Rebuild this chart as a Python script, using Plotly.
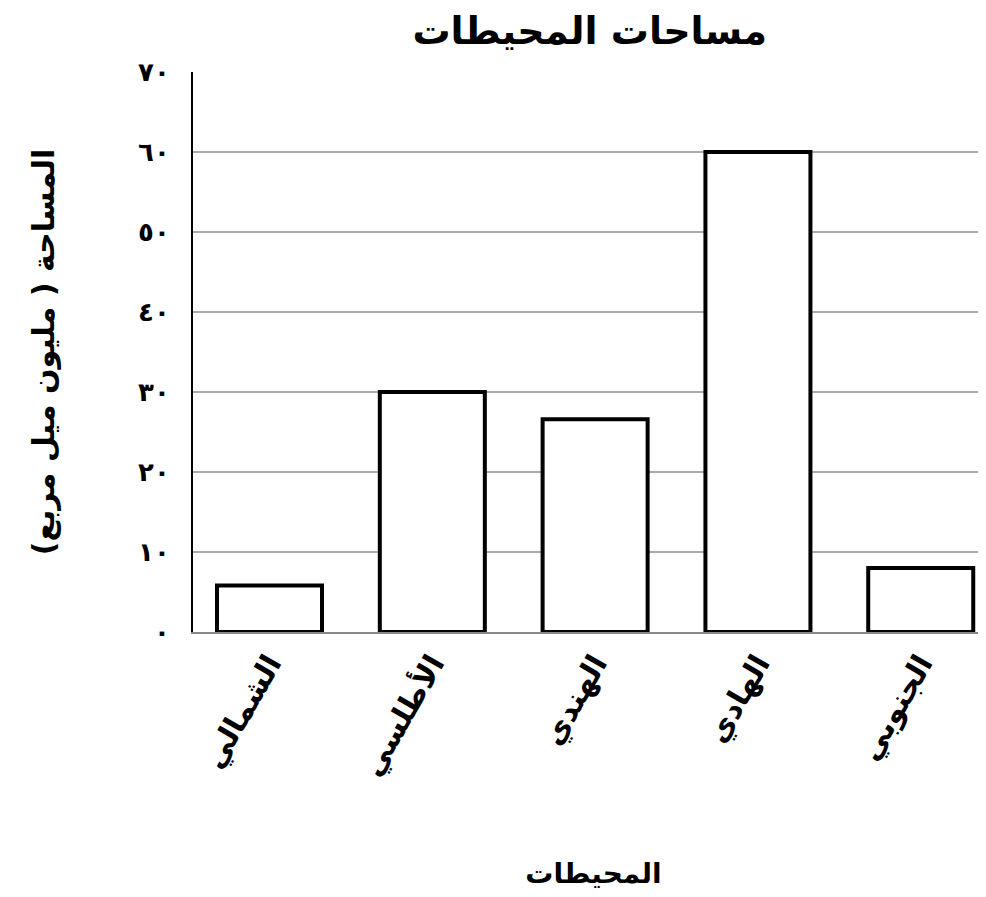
import plotly.graph_objects as go

# Dati
oceani = ["الشمالي", "الأطلسي", "الهندي", "الهادي", "الجنوبي"]
aree = [5.8, 30, 26.6, 60, 8]
tick_val = [0, 10, 20, 30, 40, 50, 60, 70]
tick_txt = ["٠", "١٠", "٢٠", "٣٠", "٤٠", "٥٠", "٦٠", "٧٠"]

font_ar = "DejaVu Sans"

fig = go.Figure()
fig.add_trace(go.Bar(
    x=oceani, y=aree,
    marker=dict(color="white", line=dict(color="black", width=4)),
    showlegend=False,
))

fig.update_layout(
    width=986, height=897,
    paper_bgcolor="white", plot_bgcolor="white",
    margin=dict(l=185, r=0, t=64, b=273),
    bargap=0.355,
    font=dict(family=font_ar, color="black"),
    title=dict(text="<b>مساحات المحيطات</b>", x=0.59, xanchor="center",
               y=0.975, yanchor="middle", font=dict(size=38)),
)

fig.update_xaxes(
    range=[-0.47, 4.45],
    tickangle=-60, tickfont=dict(size=30, family=font_ar, weight="bold"),
    showline=True, linecolor="#888", linewidth=2,
    title=dict(text="<b>المحيطات</b>", font=dict(size=28), standoff=82),
    showgrid=False,
)
fig.update_yaxes(
    range=[0, 70], tickvals=tick_val, ticktext=tick_txt,
    tickfont=dict(size=26, family=font_ar, weight="bold"),
    ticklabelstandoff=16,
    showline=True, linecolor="black", linewidth=2,
    showgrid=True, gridcolor="#aaaaaa", gridwidth=2,
    zeroline=False,
    title=dict(text="<b>المساحة ( مليون ميل مربع)</b>", font=dict(size=30), standoff=75),
)

fig.write_html("out.html")
